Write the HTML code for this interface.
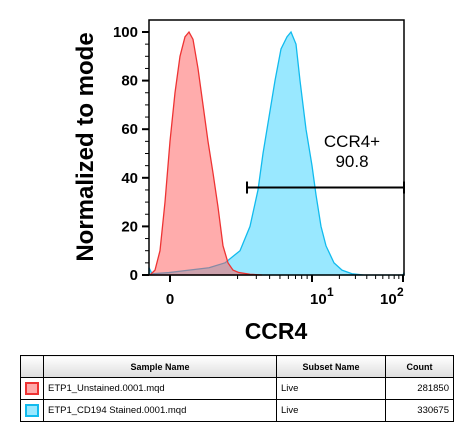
<!DOCTYPE html>
<html><head><meta charset="utf-8"><style>
body{margin:0;background:#fff;font-family:"Liberation Sans",Arial,sans-serif;}
svg{position:absolute;left:0;top:0}
table{position:absolute;left:20px;top:355px;width:434px;border-collapse:collapse;font-size:9.5px;}
td,th{border:1px solid #000;height:21px;padding:0 4px;}
th{background:linear-gradient(#fff,#ddd);font-weight:bold;font-size:9px}
.sw{width:14px;height:13px;display:inline-block;box-sizing:border-box;vertical-align:middle}
</style></head><body>
<svg width="474" height="441" id="chart"></svg>
<table>
<tr><th style="width:14px"></th><th style="width:224px">Sample Name</th><th style="width:100px">Subset Name</th><th>Count</th></tr>
<tr><td><span class="sw" style="background:#ffaaaa;border:2px solid #ee3333"></span></td><td>ETP1_Unstained.0001.mqd</td><td>Live</td><td style="text-align:right">281850</td></tr>
<tr><td><span class="sw" style="background:#99e8ff;border:2px solid #11bbee"></span></td><td>ETP1_CD194 Stained.0001.mqd</td><td>Live</td><td style="text-align:right">330675</td></tr>
</table>
<script>
const redCh=[1,6,11,16,21,26,31,36,40,44,49,54,59,64,69,74,79,84,90,101,113];
const redVal=[0,2,10,30,55,75,90,98,100,97,85,70,55,42,28,12,5,2,1,0.3,0];
const cyanCh=[0,3,20,40,60,76,91,101,109,114,120,126,132,138,142,147,151,157,163,167,172,177,185,193,203,215,254,255];
const cyanVal=[3,0.5,1,2,3,5,10,20,35,50,65,80,93,98,100,95,80,60,45,33,20,12,5,2,0.5,0,0,1];
const yTicks=[0,20,40,60,80,100];
const xTickCh=[21,163,254];
const xTickLabels=["0","10","10"];
const xTickExp=["","1","2"];
const gateY=36,gateFrom=98,gateTo=255;
const gateLabel="CCR4+",gateValue="90.8";
const L=149,R=404,T=20,B=275;
const xs=c=>L+c*(R-L)/255;
const ys=v=>B-v*2.43;
const svg=document.getElementById('chart');
const NS='http://www.w3.org/2000/svg';
function mk(t,a,p){const e=document.createElementNS(NS,t);for(const k in a)e.setAttribute(k,a[k]);(p||svg).appendChild(e);return e;}
function area(ch,val,fill,stroke,name){
  let d='M'+xs(ch[0])+','+B;
  ch.forEach((c,i)=>d+=' L'+xs(c)+','+ys(val[i]));
  d+=' L'+xs(ch[ch.length-1])+','+B+' Z';
  const p=mk('path',{d:d,fill:fill,stroke:stroke,'stroke-width':1.3});
  
  
}
area(cyanCh,cyanVal,'#99e8ff','#11bbee','stained-histogram');
area(redCh,redVal,'rgba(255,90,90,0.5)','#ee3333','unstained-histogram');
const fr=mk('rect',{x:L,y:T,width:R-L,height:B-T,fill:'none',stroke:'#000','stroke-width':1.5});


yTicks.forEach(v=>{
  mk('line',{x1:L-7,x2:L,y1:ys(v),y2:ys(v),stroke:'#000','stroke-width':2});
  const t=mk('text',{x:L-11,y:ys(v)+5,'text-anchor':'end','font-size':15,'font-weight':'bold'});t.textContent=v;
  
  
  if(v<100)for(let k=1;k<4;k++)mk('line',{x1:L-4,x2:L,y1:ys(v+k*5),y2:ys(v+k*5),stroke:'#000','stroke-width':1});
});
xTickCh.forEach((c,i)=>{
  mk('line',{x1:xs(c),x2:xs(c),y1:B,y2:B+7,stroke:'#000','stroke-width':2});
  const t=mk('text',{x:i?xs(c)+(i==1?-2:-23):xs(c),y:B+29,'text-anchor':i?'start':'middle','font-size':15,'font-weight':'bold'});
  t.textContent=xTickLabels[i];
  
  
  if(xTickExp[i]){const s=mk('text',{x:xs(c)+(i==1?15:-6),y:B+21,'font-size':12,'font-weight':'bold'});s.textContent=xTickExp[i];}
});
[2,3,4,5,6,7,8,9].forEach(m=>{
  const lg=Math.log10(m);
  [[xTickCh[0]+ (xTickCh[1]-xTickCh[0])*(0.25+0.75*lg)],[xTickCh[1]+(xTickCh[2]-xTickCh[1])*lg]].forEach(c=>{
    mk('line',{x1:xs(c[0]),x2:xs(c[0]),y1:B,y2:B+4,stroke:'#000','stroke-width':1});
  });
});
const g=mk('line',{x1:xs(gateFrom),x2:xs(gateTo),y1:ys(gateY),y2:ys(gateY),stroke:'#000','stroke-width':2});


[gateFrom,gateTo].forEach(c=>mk('line',{x1:xs(c),x2:xs(c),y1:ys(gateY)-6,y2:ys(gateY)+6,stroke:'#000','stroke-width':2}));
const gl=mk('text',{x:352,y:147,'text-anchor':'middle','font-size':17});gl.textContent=gateLabel;


const gv=mk('text',{x:352,y:167,'text-anchor':'middle','font-size':17});gv.textContent=gateValue;


const yt=mk('text',{x:0,y:0,'text-anchor':'middle','font-size':24,'font-weight':'bold',transform:'translate(93,147) rotate(-90)'});yt.textContent='Normalized to mode';


const xt=mk('text',{x:276,y:339,'text-anchor':'middle','font-size':23,'font-weight':'bold'});xt.textContent='CCR4';


</script>
</body></html>
